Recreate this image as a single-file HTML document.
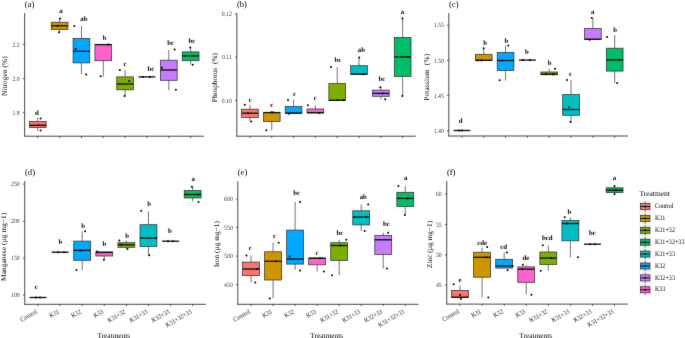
<!DOCTYPE html>
<html><head><meta charset="utf-8"><title>Boxplots</title>
<style>
html,body{margin:0;padding:0;background:#fff;}
svg{display:block;}
text{font-family:"Liberation Serif", serif;white-space:pre;text-rendering:geometricPrecision;}
.w{stroke:#3a3a3a;stroke-width:0.7;}
.b{stroke:#333;stroke-width:0.75;}
.m{stroke:#111;stroke-width:1.35;}
.d{fill:#000;}
.l{font-size:6.8px;font-weight:bold;text-anchor:middle;fill:#000;}
.ax{stroke:#4a4a4a;stroke-width:1;}
.tk{stroke:#333;stroke-width:0.8;}
.t{font-size:5.8px;text-anchor:end;fill:#3a3a3a;}
.xt{font-size:6.0px;text-anchor:end;fill:#222;}
.at{font-size:7.3px;fill:#000;}
.tag{font-size:8.6px;fill:#000;}
.lt{font-size:7.45px;fill:#000;}
.lg{font-size:6.1px;fill:#000;}
</style></head>
<body>
<svg width="685" height="338" viewBox="0 0 685 338">
<defs><filter id="soft" x="0" y="0" width="685" height="338" filterUnits="userSpaceOnUse" color-interpolation-filters="sRGB"><feConvolveMatrix order="3" kernelMatrix="0.00524 0.06192 0.00524 0.06192 0.73137 0.06192 0.00524 0.06192 0.00524" edgeMode="duplicate"/></filter></defs>
<g filter="url(#soft)">
<rect width="685" height="338" fill="#fff"/>
<line x1="37.75" y1="117.5" x2="37.75" y2="121.4" class="w"/>
<line x1="37.75" y1="127.6" x2="37.75" y2="131" class="w"/>
<rect x="29.4" y="121.4" width="16.71" height="6.2" fill="#F8766D" class="b"/>
<line x1="29.4" y1="125.3" x2="46.11" y2="125.3" class="m"/>
<circle cx="40.6" cy="118.4" r="1.0" class="d"/>
<circle cx="38.4" cy="125.3" r="1.0" class="d"/>
<circle cx="40.6" cy="130.6" r="1.0" class="d"/>
<text transform="translate(36.9,114.9)" class="l">d</text>
<line x1="59.6" y1="18.4" x2="59.6" y2="22.2" class="w"/>
<line x1="59.6" y1="29.5" x2="59.6" y2="32.6" class="w"/>
<rect x="51.24" y="22.2" width="16.71" height="7.3" fill="#CD9600" class="b"/>
<line x1="51.24" y1="25.8" x2="67.95" y2="25.8" class="m"/>
<circle cx="60.1" cy="18.6" r="1.0" class="d"/>
<circle cx="57.6" cy="25.8" r="1.0" class="d"/>
<circle cx="59" cy="32.2" r="1.0" class="d"/>
<text transform="translate(61,13.1)" class="l">a</text>
<line x1="81.44" y1="26" x2="81.44" y2="38.4" class="w"/>
<line x1="81.44" y1="62.9" x2="81.44" y2="74" class="w"/>
<rect x="73.08" y="38.4" width="16.71" height="24.5" fill="#00A9FF" class="b"/>
<line x1="73.08" y1="51.3" x2="89.79" y2="51.3" class="m"/>
<circle cx="74.3" cy="26" r="1.0" class="d"/>
<circle cx="75.7" cy="49.1" r="1.0" class="d"/>
<circle cx="86.1" cy="74.4" r="1.0" class="d"/>
<text transform="translate(83.9,21.1)" class="l">ab</text>
<line x1="103.28" y1="60.7" x2="103.28" y2="76.7" class="w"/>
<rect x="94.92" y="44.4" width="16.71" height="16.3" fill="#FF61CC" class="b"/>
<line x1="94.92" y1="44.6" x2="111.63" y2="44.6" class="m"/>
<circle cx="108.3" cy="44.4" r="1.0" class="d"/>
<circle cx="100.6" cy="76.2" r="1.0" class="d"/>
<text transform="translate(104.6,39.6)" class="l">b</text>
<line x1="125.12" y1="70" x2="125.12" y2="76.9" class="w"/>
<line x1="125.12" y1="89.8" x2="125.12" y2="96.4" class="w"/>
<rect x="116.77" y="76.9" width="16.71" height="12.9" fill="#7CAE00" class="b"/>
<line x1="116.77" y1="84" x2="133.48" y2="84" class="m"/>
<circle cx="119.8" cy="70.1" r="1.0" class="d"/>
<circle cx="129.1" cy="81.1" r="1.0" class="d"/>
<circle cx="124.5" cy="96" r="1.0" class="d"/>
<text transform="translate(125.1,65.7)" class="l">c</text>
<line x1="138.61" y1="76.9" x2="155.32" y2="76.9" class="m"/>
<circle cx="143" cy="76.9" r="1.0" class="d"/>
<circle cx="150" cy="76.9" r="1.0" class="d"/>
<text transform="translate(150.9,70.8)" class="l">bc</text>
<line x1="168.8" y1="50.1" x2="168.8" y2="60.2" class="w"/>
<line x1="168.8" y1="80.3" x2="168.8" y2="90.3" class="w"/>
<rect x="160.45" y="60.2" width="16.71" height="20.1" fill="#C77CFF" class="b"/>
<line x1="160.45" y1="70" x2="177.16" y2="70" class="m"/>
<circle cx="174.6" cy="49.4" r="1.0" class="d"/>
<circle cx="162" cy="67.7" r="1.0" class="d"/>
<circle cx="175.9" cy="89.8" r="1.0" class="d"/>
<text transform="translate(170.6,45.2)" class="l">bc</text>
<line x1="190.65" y1="47.6" x2="190.65" y2="51.9" class="w"/>
<line x1="190.65" y1="60.7" x2="190.65" y2="64.5" class="w"/>
<rect x="182.29" y="51.9" width="16.71" height="8.8" fill="#00BE67" class="b"/>
<line x1="182.29" y1="55.9" x2="199" y2="55.9" class="m"/>
<circle cx="190.2" cy="47.6" r="1.0" class="d"/>
<circle cx="193.9" cy="55.9" r="1.0" class="d"/>
<circle cx="192.7" cy="64.7" r="1.0" class="d"/>
<text transform="translate(191.9,43.2)" class="l">bc</text>
<line x1="24.65" y1="13" x2="24.65" y2="136.7" class="ax"/>
<line x1="24.15" y1="136.2" x2="203.75" y2="136.2" class="ax"/>
<line x1="22.85" y1="112.7" x2="24.65" y2="112.7" class="tk"/>
<text transform="translate(19.65,114.8) scale(1,1.12)" class="t">1.8</text>
<line x1="22.85" y1="78.6" x2="24.65" y2="78.6" class="tk"/>
<text transform="translate(19.65,80.7) scale(1,1.12)" class="t">2.0</text>
<line x1="22.85" y1="44.5" x2="24.65" y2="44.5" class="tk"/>
<text transform="translate(19.65,46.6) scale(1,1.12)" class="t">2.2</text>
<line x1="37.75" y1="136.2" x2="37.75" y2="138" class="tk"/>
<line x1="59.6" y1="136.2" x2="59.6" y2="138" class="tk"/>
<line x1="81.44" y1="136.2" x2="81.44" y2="138" class="tk"/>
<line x1="103.28" y1="136.2" x2="103.28" y2="138" class="tk"/>
<line x1="125.12" y1="136.2" x2="125.12" y2="138" class="tk"/>
<line x1="146.96" y1="136.2" x2="146.96" y2="138" class="tk"/>
<line x1="168.8" y1="136.2" x2="168.8" y2="138" class="tk"/>
<line x1="190.65" y1="136.2" x2="190.65" y2="138" class="tk"/>
<text transform="translate(6.6,76.15) rotate(-90)" class="at" text-anchor="middle" textLength="39.7" lengthAdjust="spacing">Nitrogen (%)</text>
<text transform="translate(24.8,7.1)" class="tag">(a)</text>
<line x1="249.94" y1="104.8" x2="249.94" y2="109.2" class="w"/>
<line x1="249.94" y1="117.5" x2="249.94" y2="121.1" class="w"/>
<rect x="241.6" y="109.2" width="16.69" height="8.3" fill="#F8766D" class="b"/>
<line x1="241.6" y1="113.2" x2="258.29" y2="113.2" class="m"/>
<circle cx="244.8" cy="104.8" r="1.0" class="d"/>
<circle cx="248.2" cy="113.2" r="1.0" class="d"/>
<circle cx="251.2" cy="121.5" r="1.0" class="d"/>
<text transform="translate(250.3,102.2)" class="l">c</text>
<line x1="271.76" y1="121.5" x2="271.76" y2="130.3" class="w"/>
<rect x="263.41" y="112.5" width="16.69" height="9" fill="#CD9600" class="b"/>
<line x1="263.41" y1="112.6" x2="280.1" y2="112.6" class="m"/>
<circle cx="271.4" cy="112.2" r="1.0" class="d"/>
<circle cx="273.2" cy="112.2" r="1.0" class="d"/>
<circle cx="266.3" cy="130.3" r="1.0" class="d"/>
<text transform="translate(271.7,107)" class="l">c</text>
<line x1="293.57" y1="100" x2="293.57" y2="106.5" class="w"/>
<rect x="285.23" y="106.5" width="16.69" height="6.7" fill="#00A9FF" class="b"/>
<line x1="285.23" y1="113.1" x2="301.92" y2="113.1" class="m"/>
<circle cx="288" cy="100" r="1.0" class="d"/>
<circle cx="289" cy="113.8" r="1.0" class="d"/>
<text transform="translate(294.4,96)" class="l">c</text>
<line x1="315.39" y1="105.2" x2="315.39" y2="109" class="w"/>
<rect x="307.05" y="109" width="16.69" height="3.9" fill="#FF61CC" class="b"/>
<line x1="307.05" y1="112.7" x2="323.74" y2="112.7" class="m"/>
<circle cx="307.9" cy="105.2" r="1.0" class="d"/>
<circle cx="319.4" cy="112.9" r="1.0" class="d"/>
<text transform="translate(315.2,100.3)" class="l">c</text>
<line x1="337.21" y1="67.1" x2="337.21" y2="83.5" class="w"/>
<rect x="328.86" y="83.5" width="16.69" height="16.9" fill="#7CAE00" class="b"/>
<line x1="328.86" y1="100.3" x2="345.55" y2="100.3" class="m"/>
<circle cx="331" cy="67" r="1.0" class="d"/>
<circle cx="337.7" cy="100" r="1.0" class="d"/>
<circle cx="343.5" cy="100" r="1.0" class="d"/>
<text transform="translate(338,62.1)" class="l">bc</text>
<line x1="359.03" y1="57.6" x2="359.03" y2="65.7" class="w"/>
<rect x="350.68" y="65.7" width="16.69" height="8.5" fill="#00BFC4" class="b"/>
<line x1="350.68" y1="74.1" x2="367.37" y2="74.1" class="m"/>
<circle cx="359.2" cy="57.6" r="1.0" class="d"/>
<circle cx="363.4" cy="74.2" r="1.0" class="d"/>
<text transform="translate(361.4,52.2)" class="l">ab</text>
<line x1="380.84" y1="86.9" x2="380.84" y2="90.1" class="w"/>
<line x1="380.84" y1="96.3" x2="380.84" y2="99.2" class="w"/>
<rect x="372.5" y="90.1" width="16.69" height="6.2" fill="#C77CFF" class="b"/>
<line x1="372.5" y1="93.4" x2="389.19" y2="93.4" class="m"/>
<circle cx="380.3" cy="87.2" r="1.0" class="d"/>
<circle cx="382.9" cy="93.4" r="1.0" class="d"/>
<circle cx="385.2" cy="99.2" r="1.0" class="d"/>
<text transform="translate(381.9,80.8)" class="l">bc</text>
<line x1="402.66" y1="18.5" x2="402.66" y2="37.4" class="w"/>
<line x1="402.66" y1="76.4" x2="402.66" y2="96" class="w"/>
<rect x="394.31" y="37.4" width="16.69" height="39" fill="#00BE67" class="b"/>
<line x1="394.31" y1="56.9" x2="411" y2="56.9" class="m"/>
<circle cx="402.4" cy="18.5" r="1.0" class="d"/>
<circle cx="408" cy="56.9" r="1.0" class="d"/>
<circle cx="402.4" cy="96" r="1.0" class="d"/>
<text transform="translate(402.4,14.2)" class="l">a</text>
<line x1="236.85" y1="13.3" x2="236.85" y2="136.7" class="ax"/>
<line x1="236.35" y1="136.2" x2="415.75" y2="136.2" class="ax"/>
<line x1="235.05" y1="100.4" x2="236.85" y2="100.4" class="tk"/>
<text transform="translate(231.85,102.5) scale(1,1.12)" class="t">0.10</text>
<line x1="235.05" y1="57.1" x2="236.85" y2="57.1" class="tk"/>
<text transform="translate(231.85,59.2) scale(1,1.12)" class="t">0.11</text>
<line x1="235.05" y1="13.8" x2="236.85" y2="13.8" class="tk"/>
<text transform="translate(231.85,15.9) scale(1,1.12)" class="t">0.12</text>
<line x1="249.94" y1="136.2" x2="249.94" y2="138" class="tk"/>
<line x1="271.76" y1="136.2" x2="271.76" y2="138" class="tk"/>
<line x1="293.57" y1="136.2" x2="293.57" y2="138" class="tk"/>
<line x1="315.39" y1="136.2" x2="315.39" y2="138" class="tk"/>
<line x1="337.21" y1="136.2" x2="337.21" y2="138" class="tk"/>
<line x1="359.03" y1="136.2" x2="359.03" y2="138" class="tk"/>
<line x1="380.84" y1="136.2" x2="380.84" y2="138" class="tk"/>
<line x1="402.66" y1="136.2" x2="402.66" y2="138" class="tk"/>
<text transform="translate(216.8,77.6) rotate(-90)" class="at" text-anchor="middle" textLength="49.2" lengthAdjust="spacing">Phosphorus  (%)</text>
<text transform="translate(236.9,7.1)" class="tag">(b)</text>
<line x1="453.55" y1="130.5" x2="470.25" y2="130.5" class="m"/>
<circle cx="459" cy="130.5" r="1.0" class="d"/>
<circle cx="462" cy="130.5" r="1.0" class="d"/>
<text transform="translate(460.6,123.1)" class="l">d</text>
<line x1="483.73" y1="48.3" x2="483.73" y2="54.3" class="w"/>
<rect x="475.38" y="54.3" width="16.7" height="6.2" fill="#CD9600" class="b"/>
<line x1="475.38" y1="60.3" x2="492.08" y2="60.3" class="m"/>
<circle cx="483.7" cy="48.3" r="1.0" class="d"/>
<circle cx="478" cy="60.5" r="1.0" class="d"/>
<circle cx="481.5" cy="60.5" r="1.0" class="d"/>
<text transform="translate(485.1,44.6)" class="l">b</text>
<line x1="505.56" y1="45.6" x2="505.56" y2="52.5" class="w"/>
<line x1="505.56" y1="70.5" x2="505.56" y2="80.6" class="w"/>
<rect x="497.21" y="52.5" width="16.7" height="18" fill="#00A9FF" class="b"/>
<line x1="497.21" y1="60.5" x2="513.91" y2="60.5" class="m"/>
<circle cx="508.2" cy="45.6" r="1.0" class="d"/>
<circle cx="502.5" cy="60.5" r="1.0" class="d"/>
<circle cx="499.6" cy="80.2" r="1.0" class="d"/>
<text transform="translate(506.4,42.5)" class="l">b</text>
<line x1="519.04" y1="60.1" x2="535.74" y2="60.1" class="m"/>
<circle cx="523" cy="60.1" r="1.0" class="d"/>
<circle cx="530" cy="60.1" r="1.0" class="d"/>
<text transform="translate(527,54.3)" class="l">b</text>
<line x1="549.21" y1="68.8" x2="549.21" y2="72" class="w"/>
<rect x="540.86" y="72" width="16.7" height="2.7" fill="#7CAE00" class="b"/>
<line x1="540.86" y1="74.2" x2="557.56" y2="74.2" class="m"/>
<circle cx="555" cy="68.8" r="1.0" class="d"/>
<circle cx="546" cy="74.3" r="1.0" class="d"/>
<circle cx="553" cy="74.5" r="1.0" class="d"/>
<text transform="translate(549.7,65)" class="l">b</text>
<line x1="571.04" y1="80" x2="571.04" y2="94.6" class="w"/>
<line x1="571.04" y1="115.3" x2="571.04" y2="122" class="w"/>
<rect x="562.69" y="94.6" width="16.7" height="20.7" fill="#00BFC4" class="b"/>
<line x1="562.69" y1="109.5" x2="579.39" y2="109.5" class="m"/>
<circle cx="567" cy="80" r="1.0" class="d"/>
<circle cx="569.1" cy="107.2" r="1.0" class="d"/>
<circle cx="570.5" cy="122.1" r="1.0" class="d"/>
<text transform="translate(570.5,75.7)" class="l">c</text>
<line x1="592.87" y1="18.1" x2="592.87" y2="28.4" class="w"/>
<rect x="584.52" y="28.4" width="16.7" height="11" fill="#C77CFF" class="b"/>
<line x1="584.52" y1="39.2" x2="601.22" y2="39.2" class="m"/>
<circle cx="591.8" cy="18.1" r="1.0" class="d"/>
<circle cx="589.5" cy="39.7" r="1.0" class="d"/>
<text transform="translate(592.6,13.6)" class="l">a</text>
<line x1="614.7" y1="35.2" x2="614.7" y2="48.2" class="w"/>
<line x1="614.7" y1="71.1" x2="614.7" y2="82.9" class="w"/>
<rect x="606.35" y="48.2" width="16.7" height="22.9" fill="#00BE67" class="b"/>
<line x1="606.35" y1="59.9" x2="623.05" y2="59.9" class="m"/>
<circle cx="607.1" cy="36.9" r="1.0" class="d"/>
<circle cx="617.2" cy="82.9" r="1.0" class="d"/>
<circle cx="619" cy="59.9" r="1.0" class="d"/>
<text transform="translate(615.2,32.4)" class="l">b</text>
<line x1="448.8" y1="13" x2="448.8" y2="136.5" class="ax"/>
<line x1="448.3" y1="136" x2="627.8" y2="136" class="ax"/>
<line x1="447" y1="130.6" x2="448.8" y2="130.6" class="tk"/>
<text transform="translate(443.8,132.7) scale(1,1.12)" class="t">1.40</text>
<line x1="447" y1="95.5" x2="448.8" y2="95.5" class="tk"/>
<text transform="translate(443.8,97.6) scale(1,1.12)" class="t">1.45</text>
<line x1="447" y1="60.4" x2="448.8" y2="60.4" class="tk"/>
<text transform="translate(443.8,62.5) scale(1,1.12)" class="t">1.50</text>
<line x1="447" y1="25.3" x2="448.8" y2="25.3" class="tk"/>
<text transform="translate(443.8,27.4) scale(1,1.12)" class="t">1.55</text>
<line x1="461.9" y1="136" x2="461.9" y2="137.8" class="tk"/>
<line x1="483.73" y1="136" x2="483.73" y2="137.8" class="tk"/>
<line x1="505.56" y1="136" x2="505.56" y2="137.8" class="tk"/>
<line x1="527.39" y1="136" x2="527.39" y2="137.8" class="tk"/>
<line x1="549.21" y1="136" x2="549.21" y2="137.8" class="tk"/>
<line x1="571.04" y1="136" x2="571.04" y2="137.8" class="tk"/>
<line x1="592.87" y1="136" x2="592.87" y2="137.8" class="tk"/>
<line x1="614.7" y1="136" x2="614.7" y2="137.8" class="tk"/>
<text transform="translate(429,77.3) rotate(-90)" class="at" text-anchor="middle" textLength="46.8" lengthAdjust="spacing">Potassium  (%)</text>
<text transform="translate(449,7.1)" class="tag">(c)</text>
<line x1="29.55" y1="297.5" x2="46.45" y2="297.5" class="m"/>
<circle cx="36" cy="297.5" r="1.0" class="d"/>
<circle cx="40" cy="297.5" r="1.0" class="d"/>
<text transform="translate(36.3,289.1)" class="l">c</text>
<line x1="51.65" y1="252.2" x2="68.55" y2="252.2" class="m"/>
<circle cx="58" cy="252.2" r="1.0" class="d"/>
<circle cx="64" cy="252.2" r="1.0" class="d"/>
<text transform="translate(60.4,243.8)" class="l">b</text>
<line x1="82.19" y1="231.3" x2="82.19" y2="241.1" class="w"/>
<line x1="82.19" y1="260.3" x2="82.19" y2="270.1" class="w"/>
<rect x="73.74" y="241.1" width="16.9" height="19.2" fill="#00A9FF" class="b"/>
<line x1="73.74" y1="250.4" x2="90.64" y2="250.4" class="m"/>
<circle cx="85.1" cy="231.3" r="1.0" class="d"/>
<circle cx="80.5" cy="250.4" r="1.0" class="d"/>
<circle cx="76.4" cy="270.1" r="1.0" class="d"/>
<text transform="translate(83.2,228)" class="l">b</text>
<line x1="104.28" y1="256" x2="104.28" y2="259.7" class="w"/>
<rect x="95.83" y="252" width="16.9" height="4" fill="#FF61CC" class="b"/>
<line x1="95.83" y1="252.4" x2="112.73" y2="252.4" class="m"/>
<circle cx="97.1" cy="251.4" r="1.0" class="d"/>
<circle cx="103.9" cy="259.7" r="1.0" class="d"/>
<text transform="translate(104.3,246)" class="l">b</text>
<line x1="126.37" y1="240.6" x2="126.37" y2="242.7" class="w"/>
<line x1="126.37" y1="247.3" x2="126.37" y2="248.9" class="w"/>
<rect x="117.92" y="242.7" width="16.9" height="4.6" fill="#7CAE00" class="b"/>
<line x1="117.92" y1="244.8" x2="134.82" y2="244.8" class="m"/>
<circle cx="119.3" cy="240.6" r="1.0" class="d"/>
<circle cx="121.3" cy="244.8" r="1.0" class="d"/>
<circle cx="127.5" cy="248.9" r="1.0" class="d"/>
<text transform="translate(127.1,237.7)" class="l">b</text>
<line x1="148.46" y1="211.3" x2="148.46" y2="224.7" class="w"/>
<line x1="148.46" y1="246.5" x2="148.46" y2="255.3" class="w"/>
<rect x="140.01" y="224.7" width="16.9" height="21.8" fill="#00BFC4" class="b"/>
<line x1="140.01" y1="238" x2="156.91" y2="238" class="m"/>
<circle cx="141.2" cy="210.8" r="1.0" class="d"/>
<circle cx="155.9" cy="238" r="1.0" class="d"/>
<circle cx="149.2" cy="255.3" r="1.0" class="d"/>
<text transform="translate(149.2,205.9)" class="l">b</text>
<line x1="162.1" y1="241.2" x2="179" y2="241.2" class="m"/>
<circle cx="168" cy="241.2" r="1.0" class="d"/>
<circle cx="173" cy="241.2" r="1.0" class="d"/>
<text transform="translate(170,233.1)" class="l">b</text>
<line x1="192.65" y1="186.8" x2="192.65" y2="190.5" class="w"/>
<line x1="192.65" y1="198" x2="192.65" y2="201.5" class="w"/>
<rect x="184.2" y="190.5" width="16.9" height="7.5" fill="#00BE67" class="b"/>
<line x1="184.2" y1="194.5" x2="201.1" y2="194.5" class="m"/>
<circle cx="191.9" cy="186.8" r="1.0" class="d"/>
<circle cx="198" cy="194.5" r="1.0" class="d"/>
<circle cx="198.5" cy="202" r="1.0" class="d"/>
<text transform="translate(193.2,181.1)" class="l">a</text>
<line x1="24.75" y1="181.1" x2="24.75" y2="304.8" class="ax"/>
<line x1="24.25" y1="304.3" x2="205.9" y2="304.3" class="ax"/>
<line x1="22.95" y1="295" x2="24.75" y2="295" class="tk"/>
<text transform="translate(19.75,297.1) scale(1,1.12)" class="t">100</text>
<line x1="22.95" y1="258.1" x2="24.75" y2="258.1" class="tk"/>
<text transform="translate(19.75,260.2) scale(1,1.12)" class="t">150</text>
<line x1="22.95" y1="221.2" x2="24.75" y2="221.2" class="tk"/>
<text transform="translate(19.75,223.3) scale(1,1.12)" class="t">200</text>
<line x1="22.95" y1="184.2" x2="24.75" y2="184.2" class="tk"/>
<text transform="translate(19.75,186.3) scale(1,1.12)" class="t">250</text>
<line x1="38" y1="304.3" x2="38" y2="306.1" class="tk"/>
<line x1="60.1" y1="304.3" x2="60.1" y2="306.1" class="tk"/>
<line x1="82.19" y1="304.3" x2="82.19" y2="306.1" class="tk"/>
<line x1="104.28" y1="304.3" x2="104.28" y2="306.1" class="tk"/>
<line x1="126.37" y1="304.3" x2="126.37" y2="306.1" class="tk"/>
<line x1="148.46" y1="304.3" x2="148.46" y2="306.1" class="tk"/>
<line x1="170.55" y1="304.3" x2="170.55" y2="306.1" class="tk"/>
<line x1="192.65" y1="304.3" x2="192.65" y2="306.1" class="tk"/>
<text transform="translate(37.6,312.9) rotate(-30) scale(1,1.12)" class="xt">Control</text>
<text transform="translate(59.7,312.9) rotate(-30) scale(1,1.12)" class="xt">K31</text>
<text transform="translate(81.79,312.9) rotate(-30) scale(1,1.12)" class="xt">K32</text>
<text transform="translate(103.88,312.9) rotate(-30) scale(1,1.12)" class="xt">K33</text>
<text transform="translate(125.97,312.9) rotate(-30) scale(1,1.12)" class="xt">K31+32</text>
<text transform="translate(148.06,312.9) rotate(-30) scale(1,1.12)" class="xt">K31+33</text>
<text transform="translate(170.15,312.9) rotate(-30) scale(1,1.12)" class="xt">K32+33</text>
<text transform="translate(192.25,312.9) rotate(-30) scale(1,1.12)" class="xt">K31+32+33</text>
<text x="113.83" y="337.8" class="at" text-anchor="middle" textLength="32.8" lengthAdjust="spacingAndGlyphs">Treatments</text>
<text transform="translate(6.3,246.8) rotate(-90)" class="at" text-anchor="middle" textLength="68.2" lengthAdjust="spacing">Manganese (µg mg−1)</text>
<text transform="translate(25,175.1)" class="tag">(d)</text>
<line x1="251.02" y1="255.5" x2="251.02" y2="262.1" class="w"/>
<line x1="251.02" y1="275.6" x2="251.02" y2="282.4" class="w"/>
<rect x="242.59" y="262.1" width="16.86" height="13.5" fill="#F8766D" class="b"/>
<line x1="242.59" y1="269" x2="259.45" y2="269" class="m"/>
<circle cx="246.5" cy="255.5" r="1.0" class="d"/>
<circle cx="257.4" cy="269" r="1.0" class="d"/>
<circle cx="255.3" cy="282.4" r="1.0" class="d"/>
<text transform="translate(250.2,250.1)" class="l">c</text>
<line x1="273.06" y1="242.7" x2="273.06" y2="251.8" class="w"/>
<line x1="273.06" y1="280" x2="273.06" y2="298" class="w"/>
<rect x="264.63" y="251.8" width="16.86" height="28.2" fill="#CD9600" class="b"/>
<line x1="264.63" y1="261.3" x2="281.49" y2="261.3" class="m"/>
<circle cx="278.7" cy="242.7" r="1.0" class="d"/>
<circle cx="276" cy="261.3" r="1.0" class="d"/>
<circle cx="269.8" cy="298.6" r="1.0" class="d"/>
<text transform="translate(274.6,237.7)" class="l">c</text>
<line x1="295.1" y1="201.9" x2="295.1" y2="230.1" class="w"/>
<line x1="295.1" y1="264.1" x2="295.1" y2="269.9" class="w"/>
<rect x="286.67" y="230.1" width="16.86" height="34" fill="#00A9FF" class="b"/>
<line x1="286.67" y1="259" x2="303.52" y2="259" class="m"/>
<circle cx="300.1" cy="201.9" r="1.0" class="d"/>
<circle cx="289.6" cy="256.6" r="1.0" class="d"/>
<circle cx="300.1" cy="270.5" r="1.0" class="d"/>
<text transform="translate(296.7,194.5)" class="l">bc</text>
<line x1="317.13" y1="264.8" x2="317.13" y2="271.5" class="w"/>
<rect x="308.7" y="258" width="16.86" height="6.8" fill="#FF61CC" class="b"/>
<line x1="308.7" y1="258.3" x2="325.56" y2="258.3" class="m"/>
<circle cx="323.9" cy="271.5" r="1.0" class="d"/>
<circle cx="320" cy="258.2" r="1.0" class="d"/>
<text transform="translate(317.1,254.7)" class="l">c</text>
<line x1="339.17" y1="239.8" x2="339.17" y2="242.7" class="w"/>
<line x1="339.17" y1="260.4" x2="339.17" y2="275.3" class="w"/>
<rect x="330.74" y="242.7" width="16.86" height="17.7" fill="#7CAE00" class="b"/>
<line x1="330.74" y1="245.5" x2="347.6" y2="245.5" class="m"/>
<circle cx="346.3" cy="239.8" r="1.0" class="d"/>
<circle cx="340.2" cy="245.5" r="1.0" class="d"/>
<circle cx="332.1" cy="275.3" r="1.0" class="d"/>
<text transform="translate(339.9,234.5)" class="l">bc</text>
<line x1="361.2" y1="204.4" x2="361.2" y2="210.8" class="w"/>
<line x1="361.2" y1="224.9" x2="361.2" y2="231" class="w"/>
<rect x="352.78" y="210.8" width="16.86" height="14.1" fill="#00BFC4" class="b"/>
<line x1="352.78" y1="217.1" x2="369.63" y2="217.1" class="m"/>
<circle cx="368.2" cy="204.4" r="1.0" class="d"/>
<circle cx="365.8" cy="217.1" r="1.0" class="d"/>
<circle cx="364.7" cy="231" r="1.0" class="d"/>
<text transform="translate(363.3,199.1)" class="l">ab</text>
<line x1="383.24" y1="232.7" x2="383.24" y2="235.6" class="w"/>
<line x1="383.24" y1="254.4" x2="383.24" y2="268.5" class="w"/>
<rect x="374.81" y="235.6" width="16.86" height="18.8" fill="#C77CFF" class="b"/>
<line x1="374.81" y1="239.8" x2="391.67" y2="239.8" class="m"/>
<circle cx="388.1" cy="232.7" r="1.0" class="d"/>
<circle cx="387" cy="268.5" r="1.0" class="d"/>
<text transform="translate(386.3,226)" class="l">bc</text>
<line x1="405.28" y1="186" x2="405.28" y2="192.3" class="w"/>
<line x1="405.28" y1="206.5" x2="405.28" y2="215" class="w"/>
<rect x="396.85" y="192.3" width="16.86" height="14.2" fill="#00BE67" class="b"/>
<line x1="396.85" y1="198.4" x2="413.71" y2="198.4" class="m"/>
<circle cx="398.4" cy="186" r="1.0" class="d"/>
<circle cx="407.6" cy="198.4" r="1.0" class="d"/>
<circle cx="404.8" cy="215" r="1.0" class="d"/>
<text transform="translate(405.8,179.6)" class="l">a</text>
<line x1="237.8" y1="181.2" x2="237.8" y2="304.8" class="ax"/>
<line x1="237.3" y1="304.3" x2="418.5" y2="304.3" class="ax"/>
<line x1="236" y1="284.8" x2="237.8" y2="284.8" class="tk"/>
<text transform="translate(232.8,286.9) scale(1,1.12)" class="t">450</text>
<line x1="236" y1="256.1" x2="237.8" y2="256.1" class="tk"/>
<text transform="translate(232.8,258.2) scale(1,1.12)" class="t">500</text>
<line x1="236" y1="227.5" x2="237.8" y2="227.5" class="tk"/>
<text transform="translate(232.8,229.6) scale(1,1.12)" class="t">550</text>
<line x1="236" y1="199" x2="237.8" y2="199" class="tk"/>
<text transform="translate(232.8,201.1) scale(1,1.12)" class="t">600</text>
<line x1="251.02" y1="304.3" x2="251.02" y2="306.1" class="tk"/>
<line x1="273.06" y1="304.3" x2="273.06" y2="306.1" class="tk"/>
<line x1="295.1" y1="304.3" x2="295.1" y2="306.1" class="tk"/>
<line x1="317.13" y1="304.3" x2="317.13" y2="306.1" class="tk"/>
<line x1="339.17" y1="304.3" x2="339.17" y2="306.1" class="tk"/>
<line x1="361.2" y1="304.3" x2="361.2" y2="306.1" class="tk"/>
<line x1="383.24" y1="304.3" x2="383.24" y2="306.1" class="tk"/>
<line x1="405.28" y1="304.3" x2="405.28" y2="306.1" class="tk"/>
<text transform="translate(250.62,312.9) rotate(-30) scale(1,1.12)" class="xt">Control</text>
<text transform="translate(272.66,312.9) rotate(-30) scale(1,1.12)" class="xt">K31</text>
<text transform="translate(294.7,312.9) rotate(-30) scale(1,1.12)" class="xt">K32</text>
<text transform="translate(316.73,312.9) rotate(-30) scale(1,1.12)" class="xt">K33</text>
<text transform="translate(338.77,312.9) rotate(-30) scale(1,1.12)" class="xt">K31+32</text>
<text transform="translate(360.8,312.9) rotate(-30) scale(1,1.12)" class="xt">K31+33</text>
<text transform="translate(382.84,312.9) rotate(-30) scale(1,1.12)" class="xt">K32+33</text>
<text transform="translate(404.88,312.9) rotate(-30) scale(1,1.12)" class="xt">K31+32+33</text>
<text x="326.65" y="337.8" class="at" text-anchor="middle" textLength="32.8" lengthAdjust="spacingAndGlyphs">Treatments</text>
<text transform="translate(219,244.05) rotate(-90)" class="at" text-anchor="middle" textLength="46.1" lengthAdjust="spacing">Iron (µg mg−1)</text>
<text transform="translate(237.7,175.1)" class="tag">(e)</text>
<line x1="460" y1="285.4" x2="460" y2="290.5" class="w"/>
<rect x="451.55" y="290.5" width="16.89" height="7.1" fill="#F8766D" class="b"/>
<line x1="451.55" y1="297.2" x2="468.44" y2="297.2" class="m"/>
<circle cx="453.7" cy="284.3" r="1.0" class="d"/>
<circle cx="459.9" cy="294.9" r="1.0" class="d"/>
<circle cx="461" cy="298.7" r="1.0" class="d"/>
<text transform="translate(459.9,282.3)" class="l">e</text>
<line x1="482.08" y1="247.7" x2="482.08" y2="252.2" class="w"/>
<line x1="482.08" y1="277.2" x2="482.08" y2="297.6" class="w"/>
<rect x="473.63" y="252.2" width="16.89" height="25" fill="#CD9600" class="b"/>
<line x1="473.63" y1="257.3" x2="490.52" y2="257.3" class="m"/>
<circle cx="487.2" cy="247.1" r="1.0" class="d"/>
<circle cx="486.5" cy="257.3" r="1.0" class="d"/>
<circle cx="488.3" cy="297.6" r="1.0" class="d"/>
<text transform="translate(482.1,245.1)" class="l">cde</text>
<line x1="504.16" y1="252.2" x2="504.16" y2="259.3" class="w"/>
<rect x="495.71" y="259.3" width="16.89" height="8.8" fill="#00A9FF" class="b"/>
<line x1="495.71" y1="265.9" x2="512.6" y2="265.9" class="m"/>
<circle cx="506.9" cy="252.6" r="1.0" class="d"/>
<circle cx="512.7" cy="265.9" r="1.0" class="d"/>
<circle cx="507.6" cy="270.3" r="1.0" class="d"/>
<text transform="translate(503.6,249.1)" class="l">cd</text>
<line x1="526.24" y1="264.8" x2="526.24" y2="266.9" class="w"/>
<line x1="526.24" y1="282.3" x2="526.24" y2="294.3" class="w"/>
<rect x="517.79" y="266.9" width="16.89" height="15.4" fill="#FF61CC" class="b"/>
<line x1="517.79" y1="269.2" x2="534.68" y2="269.2" class="m"/>
<circle cx="522.8" cy="264.8" r="1.0" class="d"/>
<circle cx="522.5" cy="269.2" r="1.0" class="d"/>
<circle cx="531.4" cy="294.8" r="1.0" class="d"/>
<text transform="translate(526,260.2)" class="l">de</text>
<line x1="548.31" y1="245.3" x2="548.31" y2="252" class="w"/>
<line x1="548.31" y1="264.5" x2="548.31" y2="270.7" class="w"/>
<rect x="539.87" y="252" width="16.89" height="12.5" fill="#7CAE00" class="b"/>
<line x1="539.87" y1="258.1" x2="556.76" y2="258.1" class="m"/>
<circle cx="542.8" cy="245.3" r="1.0" class="d"/>
<circle cx="551.3" cy="258.1" r="1.0" class="d"/>
<circle cx="540.7" cy="270.7" r="1.0" class="d"/>
<text transform="translate(547.3,239.9)" class="l">bcd</text>
<line x1="570.39" y1="217.3" x2="570.39" y2="220.5" class="w"/>
<line x1="570.39" y1="240.8" x2="570.39" y2="257.3" class="w"/>
<rect x="561.95" y="220.5" width="16.89" height="20.3" fill="#00BFC4" class="b"/>
<line x1="561.95" y1="223.5" x2="578.84" y2="223.5" class="m"/>
<circle cx="564.7" cy="217.3" r="1.0" class="d"/>
<circle cx="566.8" cy="223.5" r="1.0" class="d"/>
<circle cx="578" cy="257.3" r="1.0" class="d"/>
<text transform="translate(569.5,213.8)" class="l">b</text>
<line x1="584.03" y1="244.2" x2="600.92" y2="244.2" class="m"/>
<circle cx="590" cy="244.2" r="1.0" class="d"/>
<circle cx="595" cy="244.2" r="1.0" class="d"/>
<text transform="translate(592.3,235.4)" class="l">bc</text>
<line x1="614.55" y1="186.1" x2="614.55" y2="187.8" class="w"/>
<line x1="614.55" y1="192.5" x2="614.55" y2="194.2" class="w"/>
<rect x="606.11" y="187.8" width="16.89" height="4.7" fill="#00BE67" class="b"/>
<line x1="606.11" y1="190.2" x2="623" y2="190.2" class="m"/>
<circle cx="614.5" cy="186.1" r="1.0" class="d"/>
<circle cx="616" cy="190.2" r="1.0" class="d"/>
<circle cx="614.5" cy="194.2" r="1.0" class="d"/>
<text transform="translate(614.4,180.1)" class="l">a</text>
<line x1="446.75" y1="181.1" x2="446.75" y2="304.6" class="ax"/>
<line x1="446.25" y1="304.1" x2="627.8" y2="304.1" class="ax"/>
<line x1="444.95" y1="285.2" x2="446.75" y2="285.2" class="tk"/>
<text transform="translate(441.75,287.3) scale(1,1.12)" class="t">45</text>
<line x1="444.95" y1="254.8" x2="446.75" y2="254.8" class="tk"/>
<text transform="translate(441.75,256.9) scale(1,1.12)" class="t">50</text>
<line x1="444.95" y1="224.4" x2="446.75" y2="224.4" class="tk"/>
<text transform="translate(441.75,226.5) scale(1,1.12)" class="t">55</text>
<line x1="444.95" y1="194" x2="446.75" y2="194" class="tk"/>
<text transform="translate(441.75,196.1) scale(1,1.12)" class="t">60</text>
<line x1="460" y1="304.1" x2="460" y2="305.9" class="tk"/>
<line x1="482.08" y1="304.1" x2="482.08" y2="305.9" class="tk"/>
<line x1="504.16" y1="304.1" x2="504.16" y2="305.9" class="tk"/>
<line x1="526.24" y1="304.1" x2="526.24" y2="305.9" class="tk"/>
<line x1="548.31" y1="304.1" x2="548.31" y2="305.9" class="tk"/>
<line x1="570.39" y1="304.1" x2="570.39" y2="305.9" class="tk"/>
<line x1="592.47" y1="304.1" x2="592.47" y2="305.9" class="tk"/>
<line x1="614.55" y1="304.1" x2="614.55" y2="305.9" class="tk"/>
<text transform="translate(459.6,312.7) rotate(-30) scale(1,1.12)" class="xt">Control</text>
<text transform="translate(481.68,312.7) rotate(-30) scale(1,1.12)" class="xt">K31</text>
<text transform="translate(503.76,312.7) rotate(-30) scale(1,1.12)" class="xt">K32</text>
<text transform="translate(525.84,312.7) rotate(-30) scale(1,1.12)" class="xt">K33</text>
<text transform="translate(547.91,312.7) rotate(-30) scale(1,1.12)" class="xt">K31+32</text>
<text transform="translate(569.99,312.7) rotate(-30) scale(1,1.12)" class="xt">K31+33</text>
<text transform="translate(592.07,312.7) rotate(-30) scale(1,1.12)" class="xt">K32+33</text>
<text transform="translate(614.15,312.7) rotate(-30) scale(1,1.12)" class="xt">K31+32+33</text>
<text x="535.77" y="337.8" class="at" text-anchor="middle" textLength="32.8" lengthAdjust="spacingAndGlyphs">Treatments</text>
<text transform="translate(431.8,244.45) rotate(-90)" class="at" text-anchor="middle" textLength="47.1" lengthAdjust="spacing">Zinc (µg mg−1)</text>
<text transform="translate(446.9,175.1)" class="tag">(f)</text>
<text x="639.5" y="196.1" class="lt">Treatment</text>
<rect x="639.1" y="200.6" width="12.5" height="95.12" fill="#f2f2f2"/>
<line x1="645.2" y1="201.34" x2="645.2" y2="211.74" class="w"/>
<rect x="640.4" y="203.54" width="9.5" height="6.0" fill="#F8766D" class="b"/>
<line x1="640.4" y1="206.54" x2="649.9" y2="206.54" class="m" style="stroke-width:1"/>
<circle cx="645.2" cy="206.54" r="1.0" class="d"/>
<text transform="translate(654.9,208.24) scale(1,1.12)" class="lg">Control</text>
<line x1="645.2" y1="213.24" x2="645.2" y2="223.63" class="w"/>
<rect x="640.4" y="215.44" width="9.5" height="6.0" fill="#CD9600" class="b"/>
<line x1="640.4" y1="218.44" x2="649.9" y2="218.44" class="m" style="stroke-width:1"/>
<circle cx="645.2" cy="218.44" r="1.0" class="d"/>
<text transform="translate(654.9,220.13) scale(1,1.12)" class="lg">K31</text>
<line x1="645.2" y1="225.12" x2="645.2" y2="235.52" class="w"/>
<rect x="640.4" y="227.32" width="9.5" height="6.0" fill="#7CAE00" class="b"/>
<line x1="640.4" y1="230.32" x2="649.9" y2="230.32" class="m" style="stroke-width:1"/>
<circle cx="645.2" cy="230.32" r="1.0" class="d"/>
<text transform="translate(654.9,232.02) scale(1,1.12)" class="lg">K31+32</text>
<line x1="645.2" y1="237.01" x2="645.2" y2="247.41" class="w"/>
<rect x="640.4" y="239.21" width="9.5" height="6.0" fill="#00BE67" class="b"/>
<line x1="640.4" y1="242.21" x2="649.9" y2="242.21" class="m" style="stroke-width:1"/>
<circle cx="645.2" cy="242.21" r="1.0" class="d"/>
<text transform="translate(654.9,243.91) scale(1,1.12)" class="lg">K31+32+33</text>
<line x1="645.2" y1="248.91" x2="645.2" y2="259.31" class="w"/>
<rect x="640.4" y="251.1" width="9.5" height="6.0" fill="#00BFC4" class="b"/>
<line x1="640.4" y1="254.1" x2="649.9" y2="254.1" class="m" style="stroke-width:1"/>
<circle cx="645.2" cy="254.1" r="1.0" class="d"/>
<text transform="translate(654.9,255.8) scale(1,1.12)" class="lg">K31+33</text>
<line x1="645.2" y1="260.8" x2="645.2" y2="271.19" class="w"/>
<rect x="640.4" y="263" width="9.5" height="6.0" fill="#00A9FF" class="b"/>
<line x1="640.4" y1="266" x2="649.9" y2="266" class="m" style="stroke-width:1"/>
<circle cx="645.2" cy="266" r="1.0" class="d"/>
<text transform="translate(654.9,267.69) scale(1,1.12)" class="lg">K32</text>
<line x1="645.2" y1="272.69" x2="645.2" y2="283.08" class="w"/>
<rect x="640.4" y="274.88" width="9.5" height="6.0" fill="#C77CFF" class="b"/>
<line x1="640.4" y1="277.88" x2="649.9" y2="277.88" class="m" style="stroke-width:1"/>
<circle cx="645.2" cy="277.88" r="1.0" class="d"/>
<text transform="translate(654.9,279.58) scale(1,1.12)" class="lg">K32+33</text>
<line x1="645.2" y1="284.57" x2="645.2" y2="294.97" class="w"/>
<rect x="640.4" y="286.77" width="9.5" height="6.0" fill="#FF61CC" class="b"/>
<line x1="640.4" y1="289.77" x2="649.9" y2="289.77" class="m" style="stroke-width:1"/>
<circle cx="645.2" cy="289.77" r="1.0" class="d"/>
<text transform="translate(654.9,291.47) scale(1,1.12)" class="lg">K33</text>
</g>
</svg>
</body></html>
